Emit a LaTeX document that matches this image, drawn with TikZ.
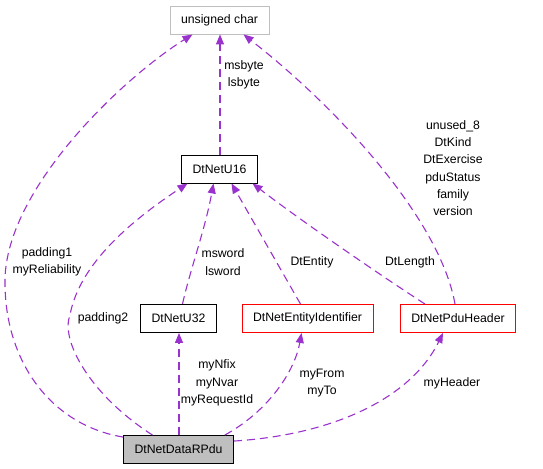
\documentclass[tikz,border=0pt]{standalone}
\usepackage{fontspec}
\setmainfont{Liberation Sans}
\usetikzlibrary{arrows.meta}
\definecolor{edgepurple}{HTML}{9A32CD}
\definecolor{boxgray}{HTML}{BFBFBF}
\begin{document}
\begin{tikzpicture}[x=1bp, y=-1bp,
font=\fontsize{12.3}{17.4}\selectfont,
cls/.style={draw, line width=0.9bp, minimum height=28bp, inner xsep=11bp, inner ysep=0pt},
grayedge/.style={cls, draw=boxgray},
redbox/.style={cls, draw=red},
mainbox/.style={cls, fill=boxgray},
useedge/.style={draw=edgepurple, line width=1.1bp, dash pattern=on 8bp off 5bp,
  -{Triangle[length=10bp, width=8bp, fill=edgepurple]}},
lbl/.style={align=center, inner sep=0pt}]
\useasboundingbox (0,0) rectangle (543,469);
\node[grayedge] (uc) at (219.5,20) {unsigned char};
\node[cls] (u16) at (219.5,169) {DtNetU16};
\node[cls] (u32) at (178.5,318.5) {DtNetU32};
\node[redbox] (ent) at (307.5,318.5) {DtNetEntityIdentifier};
\node[redbox] (pdu) at (458,318.5) {DtNetPduHeader};
\node[mainbox] (dr) at (178.5,449.5) {DtNetDataRPdu};
% member labels
\node[lbl] (lbyte) at (244,75) {msbyte\\lsbyte};
\node[lbl] (lhdr) at (453,168) {unused\_8\\DtKind\\DtExercise\\pduStatus\\family\\version};
\node[lbl] (lpad1) at (47,262) {padding1\\myReliability};
\node[lbl] (lpad2) at (103,318) {padding2};
\node[lbl] (lword) at (223,262) {msword\\lsword};
\node[lbl] (lent) at (312,262) {DtEntity};
\node[lbl] (llen) at (410,262) {DtLength};
\node[lbl] (lreq) at (217,383) {myNfix\\myNvar\\myRequestId};
\node[lbl] (lfrom) at (322,383) {myFrom\\myTo};
\node[lbl] (lhead) at (452,383) {myHeader};
% connectors
\draw[useedge] ([xshift=0.5bp]u16.north) -- ([xshift=0.5bp]uc.south);
\draw[useedge] ([yshift=-2bp]dr.north west) .. controls (50,425) and (4,360) .. (5,280)
  .. controls (6,190) and (120,80) .. ([xshift=-27bp]uc.south);
\draw[useedge] ([xshift=-26bp]dr.north) .. controls (90,395) and (60,340) .. (70,315)
  .. controls (80,260) and (140,215) .. ([xshift=-32bp]u16.south);
\draw[useedge] ([xshift=4bp]u32.north) .. controls (190,270) and (205,230) .. ([xshift=-6bp]u16.south);
\draw[useedge] ([xshift=-7bp]ent.north) -- ([xshift=12bp]u16.south);
\draw[useedge] ([xshift=-33bp]pdu.north) .. controls (380,275) and (300,220) .. ([xshift=33bp]u16.south);
\draw[useedge] ([xshift=-3bp]pdu.north) .. controls (440,220) and (340,110) .. ([xshift=24bp]uc.south);
\draw[useedge] ([xshift=0.5bp]dr.north) -- ([xshift=0.5bp]u32.south);
\draw[useedge] ([xshift=-9bp]dr.north east) .. controls (270,410) and (295,370) .. ([xshift=-6bp]ent.south);
\draw[useedge] ([yshift=-6bp]dr.north east) .. controls (330,435) and (410,400) .. ([xshift=-15bp]pdu.south);
\end{tikzpicture}
\end{document}
